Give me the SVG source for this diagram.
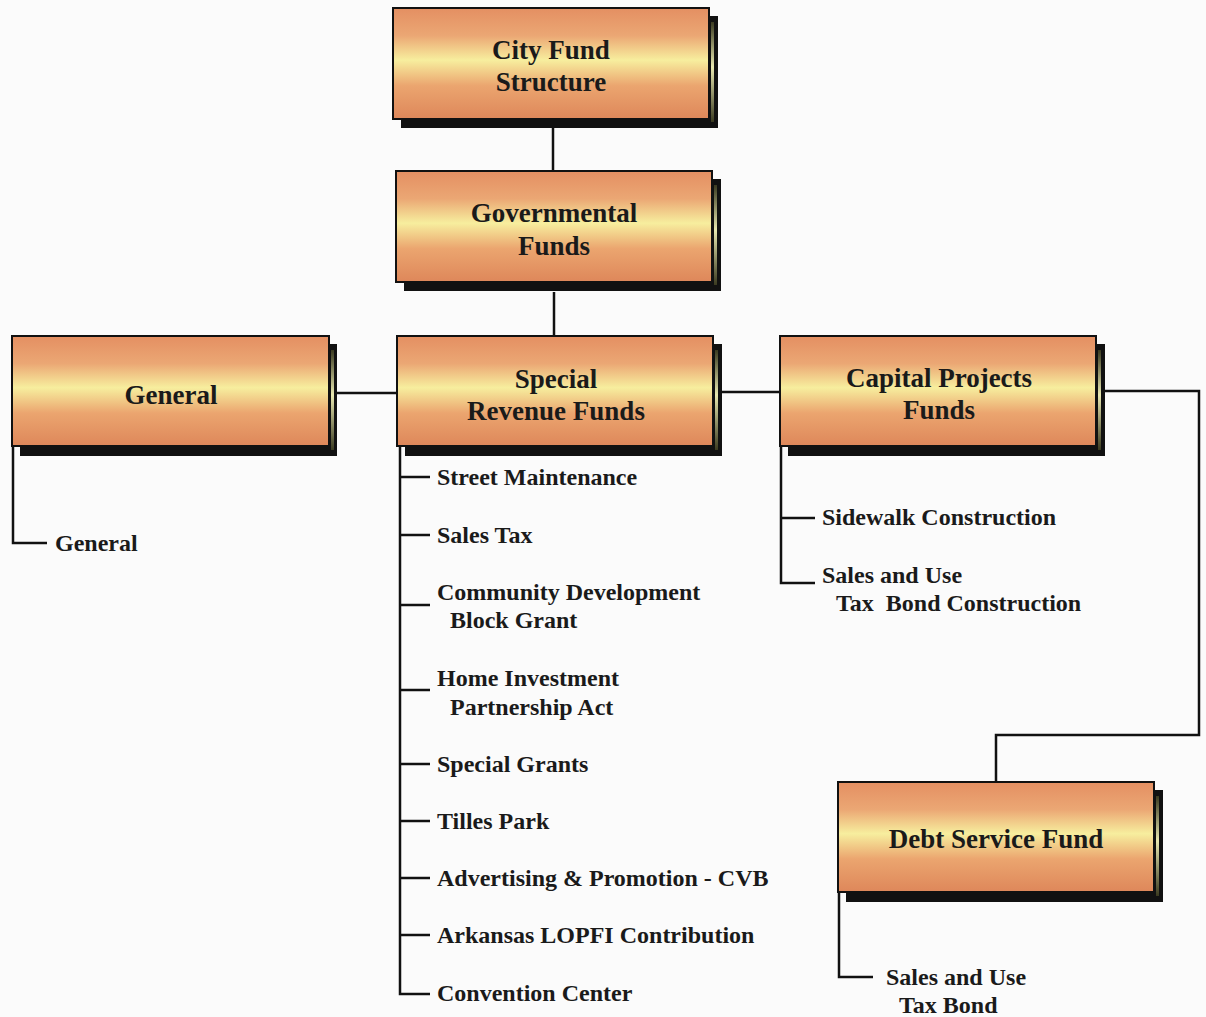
<svg xmlns="http://www.w3.org/2000/svg" width="1206" height="1017" viewBox="0 0 1206 1017">
<defs>
<linearGradient id="face" x1="0" y1="0" x2="0" y2="1">
<stop offset="0" stop-color="#e48f62"/>
<stop offset="0.25" stop-color="#eba774"/>
<stop offset="0.47" stop-color="#f7ee9e"/>
<stop offset="0.70" stop-color="#eba56f"/>
<stop offset="1" stop-color="#de875a"/>
</linearGradient>
<linearGradient id="edge" x1="0" y1="0" x2="0" y2="1">
<stop offset="0" stop-color="#3a3a20"/>
<stop offset="0.45" stop-color="#e8e8b0"/>
<stop offset="1" stop-color="#3a3a20"/>
</linearGradient>
</defs>
<style>
.bg{fill:#fbfbfb}
.shadow{fill:#111}
.edge{fill:url(#edge)}
.face{fill:url(#face);stroke:#111;stroke-width:2}
.title{font-family:"Liberation Serif","Times New Roman",serif;font-weight:bold;font-size:27px;fill:#1a1a1a;text-anchor:middle}
.item{font-family:"Liberation Serif","Times New Roman",serif;font-weight:bold;font-size:24px;fill:#1a1a1a}
.conn{fill:none;stroke:#111;stroke-width:2.5}
</style>
<rect class="bg" x="0" y="0" width="1206" height="1017"/>

<g id="connectors">
<path class="conn" d="M553,128 V170"/>
<path class="conn" d="M554,292 V335"/>
<path class="conn" d="M337,393 H397"/>
<path class="conn" d="M722,392 H780"/>
<path class="conn" d="M1105,391 H1199 V735 H996 V781"/>
<path class="conn" d="M13,446 V543 H47"/>
<path class="conn" d="M400,446 V994 H430 M400,477 H430 M400,535 H430 M400,605 H430 M400,690 H430 M400,764 H430 M400,821 H430 M400,878 H430 M400,935 H430"/>
<path class="conn" d="M781,446 V583 H815 M781,518 H815"/>
<path class="conn" d="M839,892 V977 H873"/>
</g>

<g id="city-fund">
<rect class="shadow" x="401" y="16" width="317" height="112"/>
<rect class="edge" x="711" y="22" width="3" height="100"/>
<rect class="face" x="393" y="8" width="316" height="111"/>
<text class="title" x="551" y="59">City Fund</text>
<text class="title" x="551" y="91">Structure</text>
</g>

<g id="governmental">
<rect class="shadow" x="404" y="179" width="317" height="112"/>
<rect class="edge" x="714" y="185" width="3" height="100"/>
<rect class="face" x="396" y="171" width="316" height="111"/>
<text class="title" x="554" y="222">Governmental</text>
<text class="title" x="554" y="255">Funds</text>
</g>

<g id="general">
<rect class="shadow" x="20" y="344" width="317" height="112"/>
<rect class="edge" x="331" y="350" width="3" height="100"/>
<rect class="face" x="12" y="336" width="317" height="110"/>
<text class="title" x="171" y="404">General</text>
</g>

<g id="special-revenue">
<rect class="shadow" x="405" y="344" width="317" height="112"/>
<rect class="edge" x="715" y="350" width="3" height="100"/>
<rect class="face" x="397" y="336" width="316" height="110"/>
<text class="title" x="556" y="388">Special</text>
<text class="title" x="556" y="420">Revenue Funds</text>
</g>

<g id="capital-projects">
<rect class="shadow" x="788" y="344" width="317" height="112"/>
<rect class="edge" x="1098" y="350" width="3" height="100"/>
<rect class="face" x="780" y="336" width="316" height="110"/>
<text class="title" x="939" y="387">Capital Projects</text>
<text class="title" x="939" y="419">Funds</text>
</g>

<g id="debt-service">
<rect class="shadow" x="846" y="790" width="317" height="112"/>
<rect class="edge" x="1156" y="796" width="3" height="100"/>
<rect class="face" x="838" y="782" width="316" height="110"/>
<text class="title" x="996" y="848">Debt Service Fund</text>
</g>

<g id="general-items">
<text class="item" x="55" y="551">General</text>
</g>

<g id="special-revenue-items">
<text class="item" x="437" y="485">Street Maintenance</text>
<text class="item" x="437" y="543">Sales Tax</text>
<text class="item" x="437" y="600">Community Development</text>
<text class="item" x="450" y="628">Block Grant</text>
<text class="item" x="437" y="686">Home Investment</text>
<text class="item" x="450" y="715">Partnership Act</text>
<text class="item" x="437" y="772">Special Grants</text>
<text class="item" x="437" y="829">Tilles Park</text>
<text class="item" x="437" y="886">Advertising &amp; Promotion - CVB</text>
<text class="item" x="437" y="943">Arkansas LOPFI Contribution</text>
<text class="item" x="437" y="1001">Convention Center</text>
</g>

<g id="capital-items">
<text class="item" x="822" y="525">Sidewalk Construction</text>
<text class="item" x="822" y="583">Sales and Use</text>
<text class="item" x="836" y="611" xml:space="preserve">Tax  Bond Construction</text>
</g>

<g id="debt-items">
<text class="item" x="886" y="985">Sales and Use</text>
<text class="item" x="899" y="1013">Tax Bond</text>
</g>
</svg>
